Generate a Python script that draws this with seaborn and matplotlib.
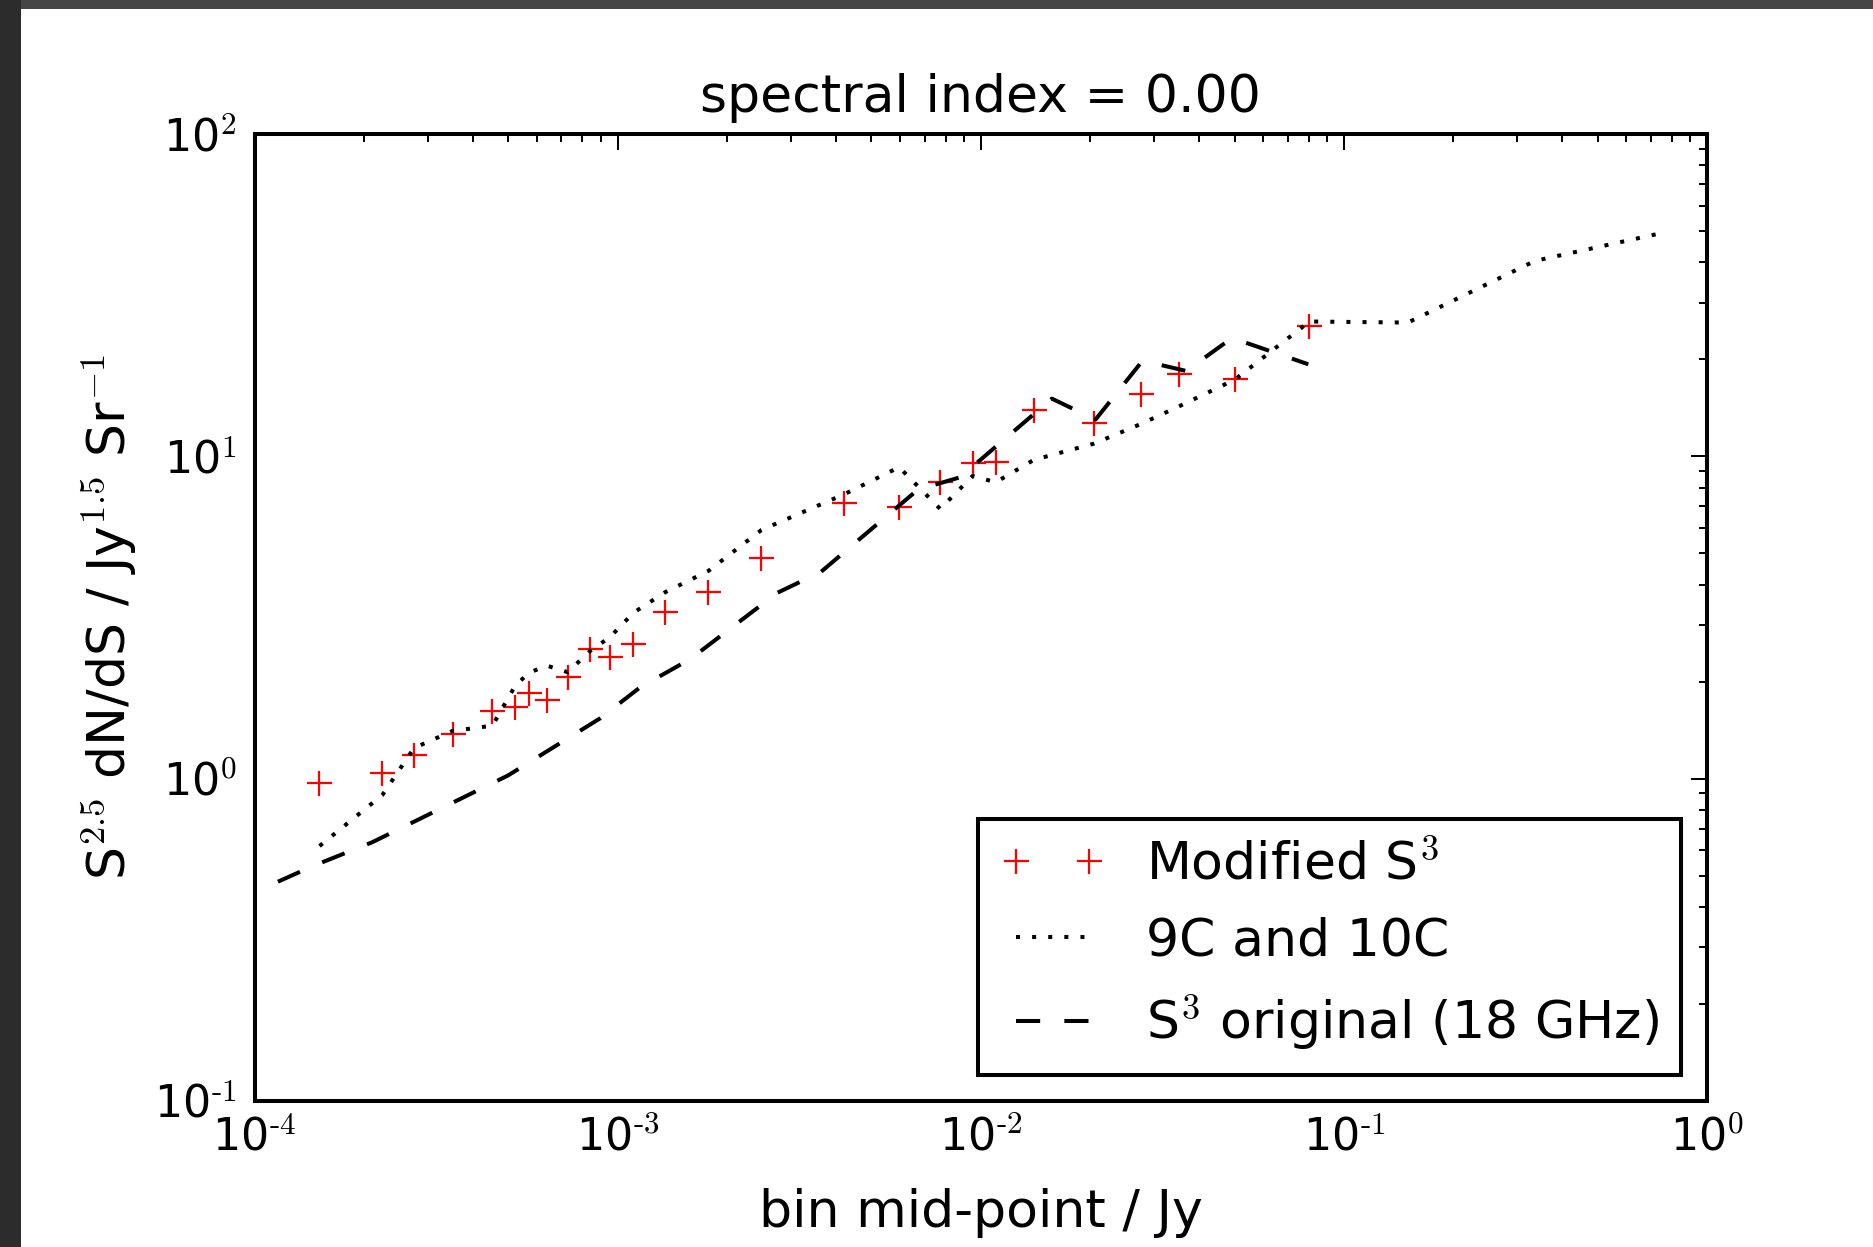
import numpy as np
import pandas as pd
import matplotlib
matplotlib.use('Agg')
import matplotlib.pyplot as plt
import seaborn as sns
from matplotlib.patches import Rectangle
from matplotlib.ticker import FuncFormatter

# ---- data (log-log plot) ----
# Modified S^3 (red crosses)
mod_s = [1.51e-4, 2.25e-4, 2.75e-4, 3.51e-4, 4.52e-4, 5.22e-4, 5.71e-4, 6.40e-4,
         7.29e-4, 8.40e-4, 9.53e-4, 1.105e-3, 1.353e-3, 1.778e-3, 2.49e-3,
         4.20e-3, 5.96e-3, 7.73e-3, 9.50e-3, 1.10e-2, 1.40e-2, 2.05e-2,
         2.76e-2, 3.52e-2, 5.01e-2, 8.04e-2]
mod_y = [0.968, 1.04, 1.18, 1.38, 1.62, 1.67, 1.85, 1.75,
         2.06, 2.52, 2.39, 2.62, 3.28, 3.80, 4.83,
         7.15, 6.98, 8.35, 9.52, 9.59, 13.9, 12.7,
         15.65, 18.0, 17.4, 25.3]

# 9C and 10C (dotted)
c9_s = [1.51e-4, 2.25e-4, 2.75e-4, 3.51e-4, 4.52e-4, 5.22e-4, 5.71e-4, 6.40e-4,
        7.29e-4, 8.40e-4, 9.53e-4, 1.105e-3, 1.353e-3, 1.778e-3, 2.49e-3,
        4.20e-3, 5.96e-3, 7.73e-3, 9.50e-3, 1.10e-2, 1.40e-2, 2.05e-2,
        2.76e-2, 3.52e-2, 5.01e-2, 8.04e-2, 0.150, 0.336, 0.727]
c9_y = [0.618, 0.89, 1.245, 1.406, 1.46, 1.94, 2.135, 2.24,
        2.14, 2.49, 2.75, 3.27, 3.79, 4.41, 5.91,
        7.62, 9.25, 6.87, 8.69, 8.31, 9.75, 10.95,
        12.6, 14.3, 17.3, 26.2, 26.0, 40.4, 48.9]

# S^3 original (18 GHz) (dashed)
orig_s = [1.16e-4, 1.45e-4, 2.11e-4, 4.99e-4, 8.96e-4, 1.153e-3, 1.585e-3,
          2.75e-3, 3.63e-3, 6.70e-3, 8.77e-3, 1.57e-2, 2.07e-2, 2.79e-2,
          3.68e-2, 4.92e-2, 7.98e-2]
orig_y = [0.479, 0.536, 0.635, 1.023, 1.54, 1.92, 2.35,
          3.77, 4.38, 7.87, 8.61, 15.1, 13.0, 19.8,
          18.4, 23.3, 19.3]

sns.set_style('white')
plt.rcParams['font.family'] = ['DejaVu Sans']
plt.rcParams['mathtext.fontset'] = 'cm'
plt.rcParams['text.color'] = 'black'
plt.rcParams['axes.labelcolor'] = 'black'
plt.rcParams['axes.unicode_minus'] = False

W, H = 1874, 1247
fig = plt.figure(figsize=(W / 100, H / 100), dpi=100)
fig.patch.set_facecolor('white')
ax = fig.add_axes([254.5 / W, 1 - 1101 / H, (1707 - 254.5) / W, (1101 - 134) / H])

lw = 2.9
sns.lineplot(x=mod_s, y=mod_y, ax=ax, color='red', marker='+', linestyle='',
             markersize=18, markeredgewidth=1.6, markeredgecolor='red',
             label='Modified S$^3$', errorbar=None, sort=False)
sns.lineplot(x=c9_s, y=c9_y, ax=ax, color='black', linestyle=(0, (1, 3)),
             linewidth=lw, label='9C and 10C', errorbar=None, sort=False)
sns.lineplot(x=orig_s, y=orig_y, ax=ax, color='black', linestyle=(0, (6, 6)),
             linewidth=lw, label='S$^3$ original (18 GHz)', errorbar=None, sort=False)

ax.set_xscale('log')
ax.set_yscale('log')
ax.set_xlim(1e-4, 1)
ax.set_ylim(0.1, 100)


def decade_label(v, pos):
    e = int(round(np.log10(v)))
    # plain hyphen in the exponent, like the old-style labels
    return r'$\mathdefault{10^{\text{%d}}}$' % e


ax.xaxis.set_major_formatter(FuncFormatter(decade_label))
ax.yaxis.set_major_formatter(FuncFormatter(decade_label))

for sp in ax.spines.values():
    sp.set_color('black')
    sp.set_linewidth(lw)
    sp.set_visible(True)

ax.tick_params(which='both', direction='in', top=True, right=True,
               width=1.45, color='black', labelcolor='black')
ax.tick_params(which='major', length=11.6, labelsize=32)
ax.tick_params(axis='x', which='major', pad=11)
ax.tick_params(axis='y', which='major', pad=13)
ax.tick_params(which='minor', length=5.8)

ax.set_title('spectral index = 0.00', fontsize=37.5, pad=16, color='black')
ax.set_xlabel('bin mid-point / Jy', fontsize=37.5, labelpad=21, color='black')
ax.set_ylabel('S$^{2.5}$ dN/dS / Jy$^{1.5}$ Sr$^{-1}$', fontsize=37.5, labelpad=11,
              color='black')

leg = ax.legend(loc='lower right', numpoints=2, fontsize=37.5, frameon=True,
                fancybox=False, shadow=False, framealpha=1, edgecolor='black',
                borderpad=0.42, labelspacing=0.5, handlelength=2.0,
                handletextpad=0.8, borderaxespad=0.5)
leg.get_frame().set_linewidth(lw)
for t in leg.get_texts():
    t.set_color('black')

# dark screenshot edges of the reference
fig.add_artist(Rectangle((0, 1 - 9 / H), 1, 9 / H, transform=fig.transFigure,
                         facecolor='#454545', edgecolor='none', zorder=10))
fig.add_artist(Rectangle((0, 0), 21 / W, 1, transform=fig.transFigure,
                         facecolor='#2c2c2c', edgecolor='none', zorder=10))

fig.savefig('out.png', dpi=100, facecolor='white')
